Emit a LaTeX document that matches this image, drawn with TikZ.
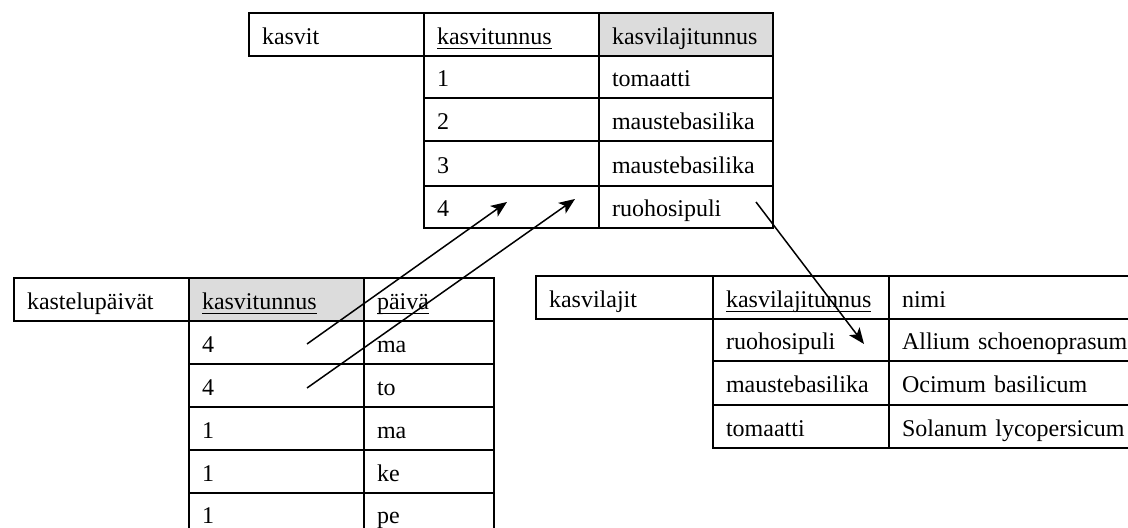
\documentclass[tikz,border=0pt]{standalone}
\usepackage{fontspec}
\setmainfont{Liberation Serif}
\usetikzlibrary{arrows.meta}
\definecolor{hdr}{RGB}{220,220,220}
\newcommand{\ulw}[1]{\setbox0\hbox{#1}\rlap{\rule[-2.3pt]{\wd0}{0.6pt}}\box0}
\newcommand\cellnode[7]{%
  \pgfmathsetlengthmacro\cw{(#4-#2)*0.5pt}%
  \pgfmathsetlengthmacro\ch{(#5-#3)*0.5pt}%
  \pgfmathsetlengthmacro\tw{(#4-#2)*0.5pt-13pt}%
  \node[cell, fill=#6, minimum width=\cw, minimum height=\ch, text width=\tw] (#1) at (#2,#3) {#7};}
\tikzset{
  cell/.style={draw, line width=1pt, anchor=north west, inner xsep=6.5pt, inner ysep=0pt,
    align=left, text height=11pt, text depth=1pt, font=\fontsize{12}{14}\selectfont},
  link/.style={line width=0.75pt, -{Stealth[length=8pt,width=6.5pt,inset=2pt]}}
}
\begin{document}
\begin{tikzpicture}[x=0.5pt,y=-0.5pt]
\useasboundingbox (0,0) rectangle (1128,528);
% kasvit
\cellnode{T00}{248}{12}{423}{55}{none}{kasvit}
\cellnode{T01}{423}{12}{598}{55}{none}{\ulw{kasvitunnus}}
\cellnode{T02}{598}{12}{772}{55}{hdr}{kasvilajitunnus}
\cellnode{T11}{423}{55}{598}{97}{none}{1}
\cellnode{T12}{598}{55}{772}{97}{none}{tomaatti}
\cellnode{T21}{423}{97}{598}{140}{none}{2}
\cellnode{T22}{598}{97}{772}{140}{none}{maustebasilika}
\cellnode{T31}{423}{140}{598}{185}{none}{3}
\cellnode{T32}{598}{140}{772}{185}{none}{maustebasilika}
\cellnode{T41}{423}{185}{598}{227}{none}{4}
\cellnode{T42}{598}{185}{772}{227}{none}{ruohosipuli}
% kastelupaivat
\cellnode{B00}{13}{277}{188}{320}{none}{kastelupäivät}
\cellnode{B01}{188}{277}{363}{320}{hdr}{\ulw{kasvitunnus}}
\cellnode{B02}{363}{277}{493}{320}{none}{\ulw{päivä}}
\cellnode{B11}{188}{320}{363}{363}{none}{4}
\cellnode{B12}{363}{320}{493}{363}{none}{ma}
\cellnode{B21}{188}{363}{363}{406}{none}{4}
\cellnode{B22}{363}{363}{493}{406}{none}{to}
\cellnode{B31}{188}{406}{363}{449}{none}{1}
\cellnode{B32}{363}{406}{493}{449}{none}{ma}
\cellnode{B41}{188}{449}{363}{492}{none}{1}
\cellnode{B42}{363}{449}{493}{492}{none}{ke}
\cellnode{B51}{188}{492}{363}{532}{none}{1}
\cellnode{B52}{363}{492}{493}{532}{none}{pe}
% kasvilajit
\cellnode{R00}{535}{275}{712}{318}{none}{kasvilajit}
\cellnode{R01}{712}{275}{888}{318}{none}{\ulw{kasvilajitunnus}}
\cellnode{R02}{888}{275}{1140}{318}{none}{nimi}
\cellnode{R11}{712}{318}{888}{360}{none}{ruohosipuli}
\cellnode{R12}{888}{318}{1140}{360}{none}{Allium schoenoprasum}
\cellnode{R21}{712}{360}{888}{404}{none}{maustebasilika}
\cellnode{R22}{888}{360}{1140}{404}{none}{Ocimum basilicum}
\cellnode{R31}{712}{404}{888}{447}{none}{tomaatti}
\cellnode{R32}{888}{404}{1140}{447}{none}{Solanum lycopersicum}
% connectors
\coordinate (s1) at (307,344);
\coordinate (t1) at (507,202);
\coordinate (s2) at (307,388);
\coordinate (t2) at (575,199);
\coordinate (s3) at (756,202);
\coordinate (t3) at (864,344);
\draw[link] (s1) -- (t1);
\draw[link] (s2) -- (t2);
\draw[link] (s3) -- (t3);
\end{tikzpicture}
\end{document}
